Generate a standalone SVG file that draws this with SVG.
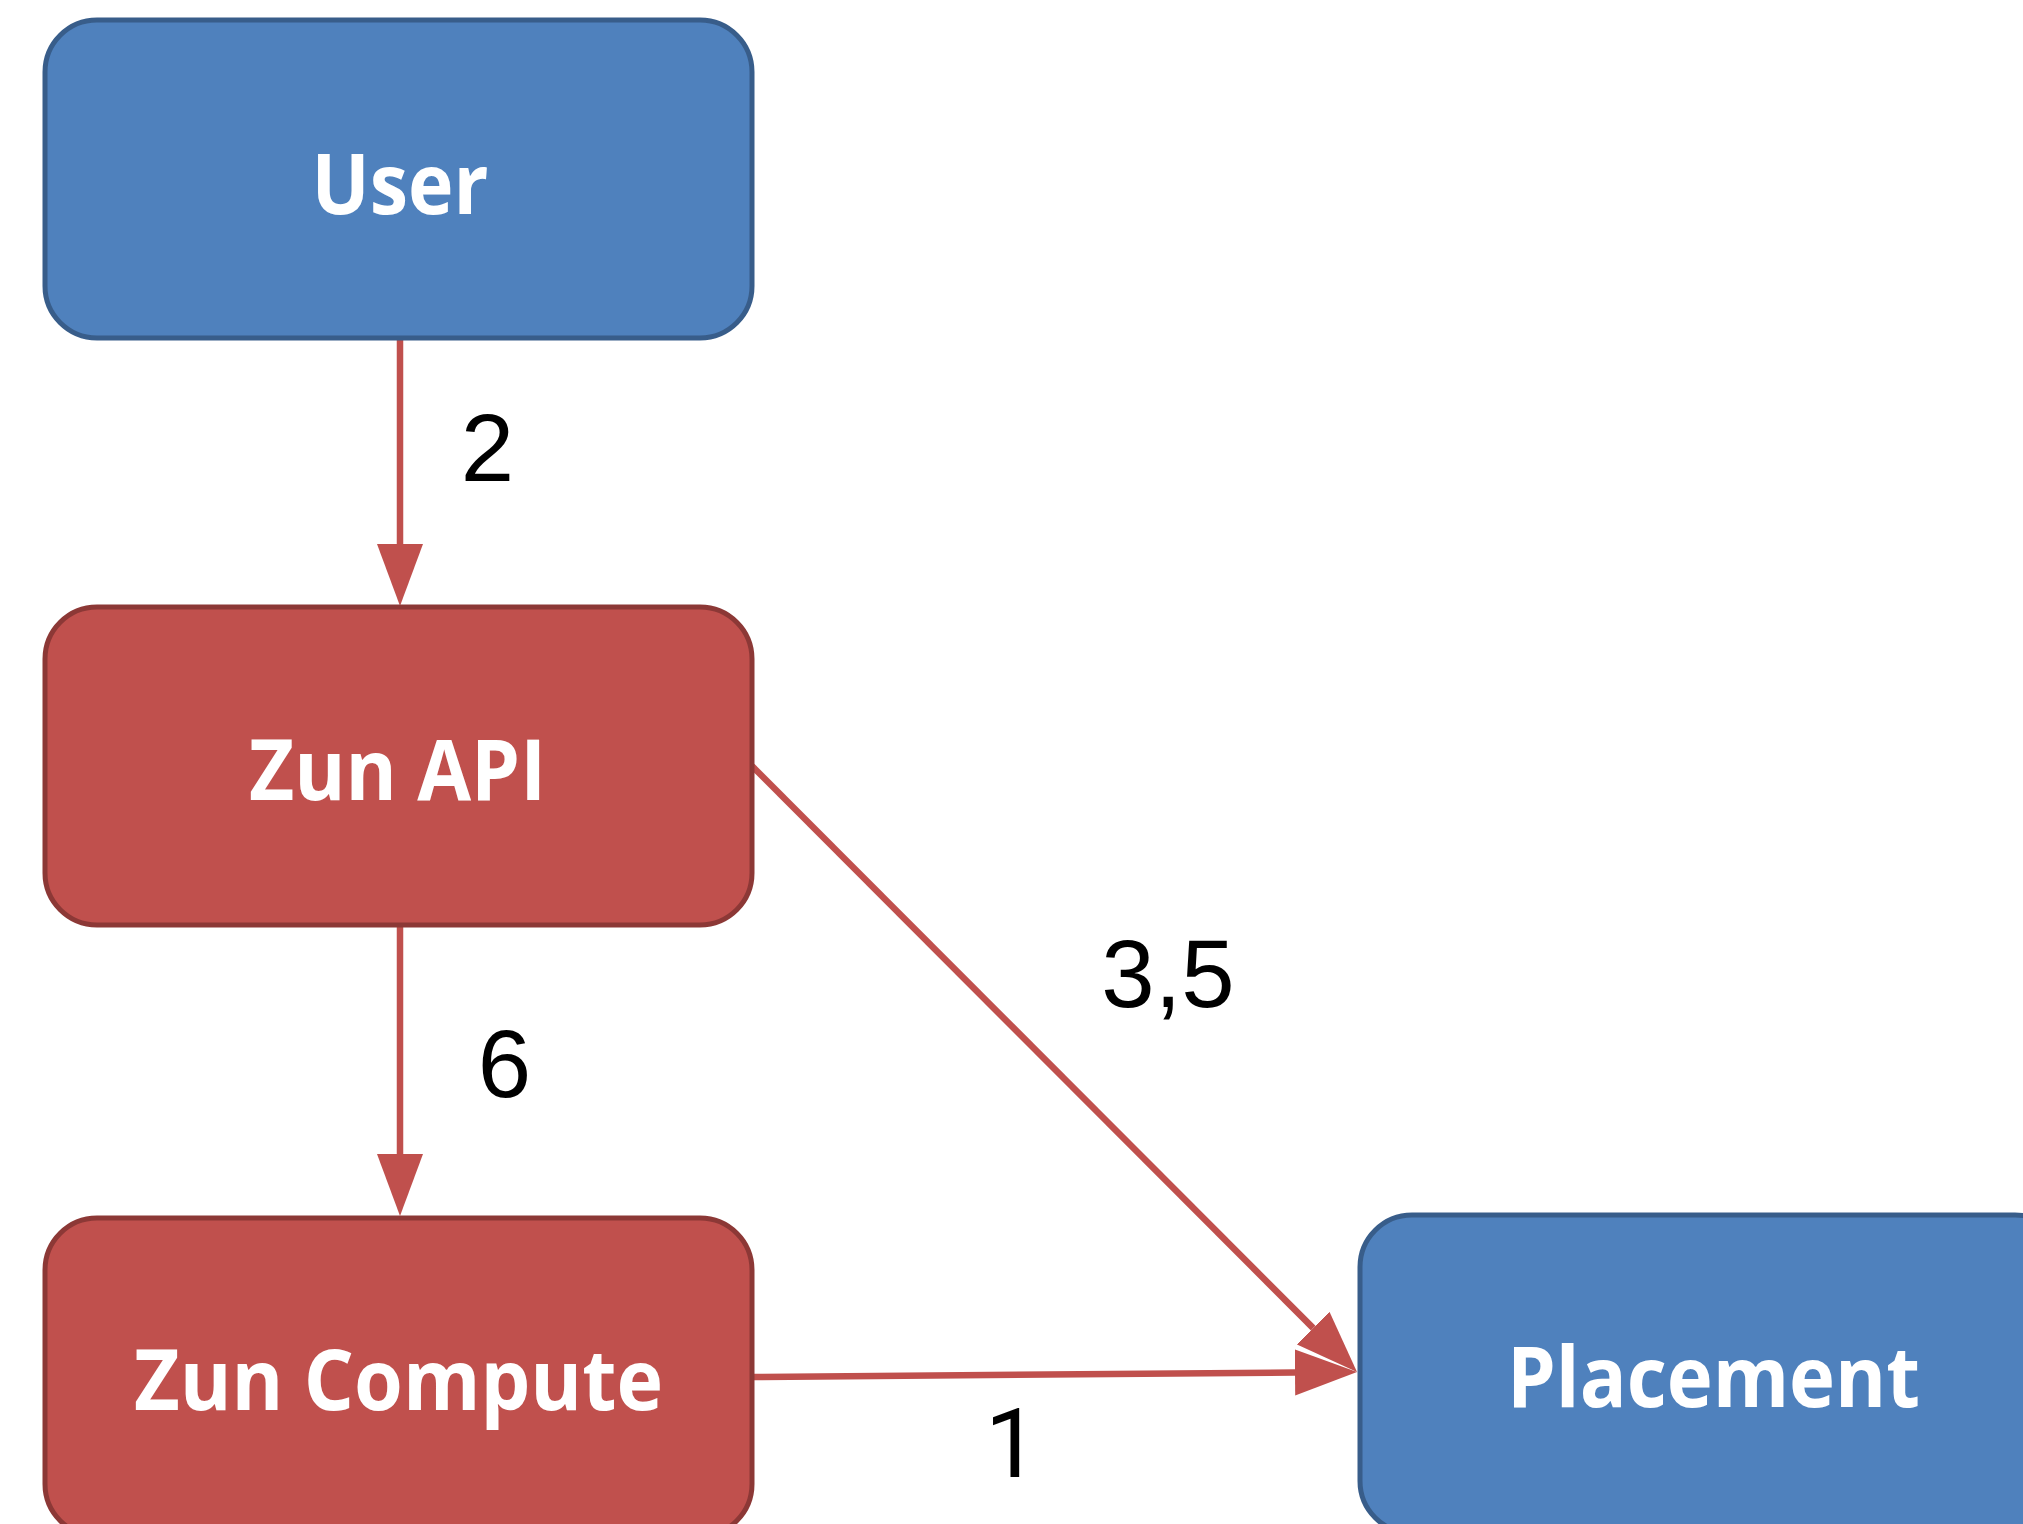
<svg xmlns="http://www.w3.org/2000/svg" width="2023" height="1524" viewBox="0 0 2023 1524">
<style>
.blue{fill:#4F81BD;stroke:#385D8A;stroke-width:5}
.red{fill:#C0504D;stroke:#8C3836;stroke-width:5}
.nt{font-family:"Open Sans","Noto Sans","Liberation Sans",sans-serif;font-weight:bold;font-size:84px;fill:#FFFFFF;text-anchor:middle}
.conn{stroke:#C0504D;stroke-width:6.5;fill:none}
.lbl{font-family:"Liberation Sans",Arial,sans-serif;font-size:96px;fill:#000000;text-anchor:middle}
.one{font-family:Roboto,"Liberation Sans",sans-serif}
</style>
<defs>
<marker id="ah" markerUnits="userSpaceOnUse" markerWidth="64" markerHeight="48" viewBox="0 -24 64 48" refX="0" refY="0" orient="auto">
<path d="M0,-23 L62,0 L0,23 z" fill="#C0504D"/>
</marker>
</defs>
<rect width="2023" height="1524" fill="#FFFFFF"/>
<g id="connectors">
<line class="conn" x1="400" y1="338" x2="400" y2="544" marker-end="url(#ah)"/>
<line class="conn" x1="400" y1="925" x2="400" y2="1154" marker-end="url(#ah)"/>
<line class="conn" x1="752" y1="766" x2="1313.2" y2="1328.1" marker-end="url(#ah)"/>
<line class="conn" x1="752" y1="1377" x2="1295" y2="1372.5" marker-end="url(#ah)"/>
<text class="lbl" x="487.5" y="481">2</text>
<text class="lbl" x="504.5" y="1097">6</text>
<text class="lbl" x="1168" y="1007">3,5</text>
<text class="lbl one" x="1012" y="1477">1</text>
</g>
<g id="user">
<rect class="blue" x="45" y="20" width="707" height="318" rx="52" ry="52"/>
<text class="nt" x="400" y="214" textLength="177" lengthAdjust="spacingAndGlyphs">User</text>
</g>
<g id="zun-api">
<rect class="red" x="45" y="607" width="707" height="318" rx="52" ry="52"/>
<text class="nt" x="397.5" y="800" textLength="297" lengthAdjust="spacingAndGlyphs">Zun API</text>
</g>
<g id="zun-compute">
<rect class="red" x="45" y="1218" width="707" height="318" rx="52" ry="52"/>
<text class="nt" x="398.5" y="1410" textLength="529" lengthAdjust="spacingAndGlyphs">Zun Compute</text>
</g>
<g id="placement">
<rect class="blue" x="1360" y="1215" width="707" height="318" rx="52" ry="52"/>
<text class="nt" x="1713.5" y="1407" textLength="413" lengthAdjust="spacingAndGlyphs">Placement</text>
</g>
</svg>
